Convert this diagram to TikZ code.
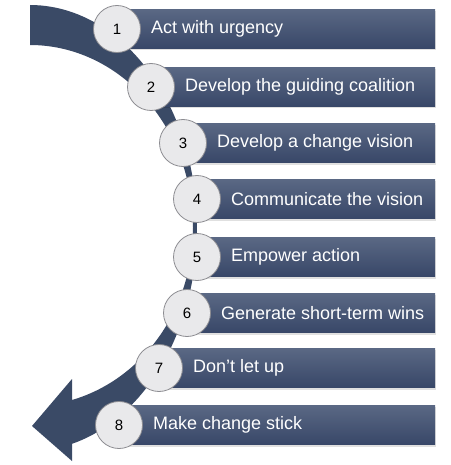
\documentclass[tikz,border=0pt]{standalone}
\usepackage{fontspec}
\setmainfont{Liberation Sans}
\definecolor{bandc}{RGB}{58,74,102}
\definecolor{barTop}{RGB}{90,104,132}
\definecolor{barBot}{RGB}{56,71,104}
\definecolor{circFill}{RGB}{233,233,235}
\definecolor{circLine}{RGB}{140,140,145}
\tikzset{
  num/.style={circle, draw=circLine, line width=0.8pt, fill=circFill, minimum size=47pt, inner sep=0pt, font=\fontsize{15}{17}\selectfont, text=black},
  lbl/.style={anchor=west, text=white, font=\fontsize{18}{21}\selectfont, inner sep=0pt},
  barshade/.style={top color=barTop, bottom color=barBot},
  barshadow/.style={fill=black, opacity=0.12}
}
\begin{document}
\begin{tikzpicture}[x=1pt,y=-1pt]
\useasboundingbox (0,0) rectangle (450,465);
% curved arrow band
\fill[bandc] (30,5)
  -- plot[domain=90:-75.43, samples=90, variable=\t] ({30+167*cos(\t)},{228-223*sin(\t)})
  -- (72,461) -- (32,426) -- (72,379) -- (72,400)
  -- plot[domain=-75.07:0, samples=60, variable=\t] ({30+163*cos(\t)},{228-178*sin(\t)})
  -- plot[domain=0:90, samples=60, variable=\t] ({30+163*cos(\t)},{228-183*sin(\t)})
  -- cycle;
% bars, circles and labels
\foreach \n/\x/\y/\txt in {
  1/117/29/{Act with urgency},
  2/151/87/{Develop the guiding coalition},
  3/183/143/{Develop a change vision},
  4/197/199/{Communicate the vision},
  5/197/257/{Empower action},
  6/187/313/{Generate short-term wins},
  7/159/368/{Don’t let up},
  8/119/425/{Make change stick}} {
  \fill[barshadow] (\x+1,\y-18) rectangle (436,\y+21.5);
  \shade[barshade] (\x,\y-19.5) rectangle (435,\y+19.5);
  \node[num] (c\n) at (\x,\y) {\n};
  \node[lbl] (t\n) at ([xshift=10pt]c\n.east) {\txt};
}
\end{tikzpicture}
\end{document}
